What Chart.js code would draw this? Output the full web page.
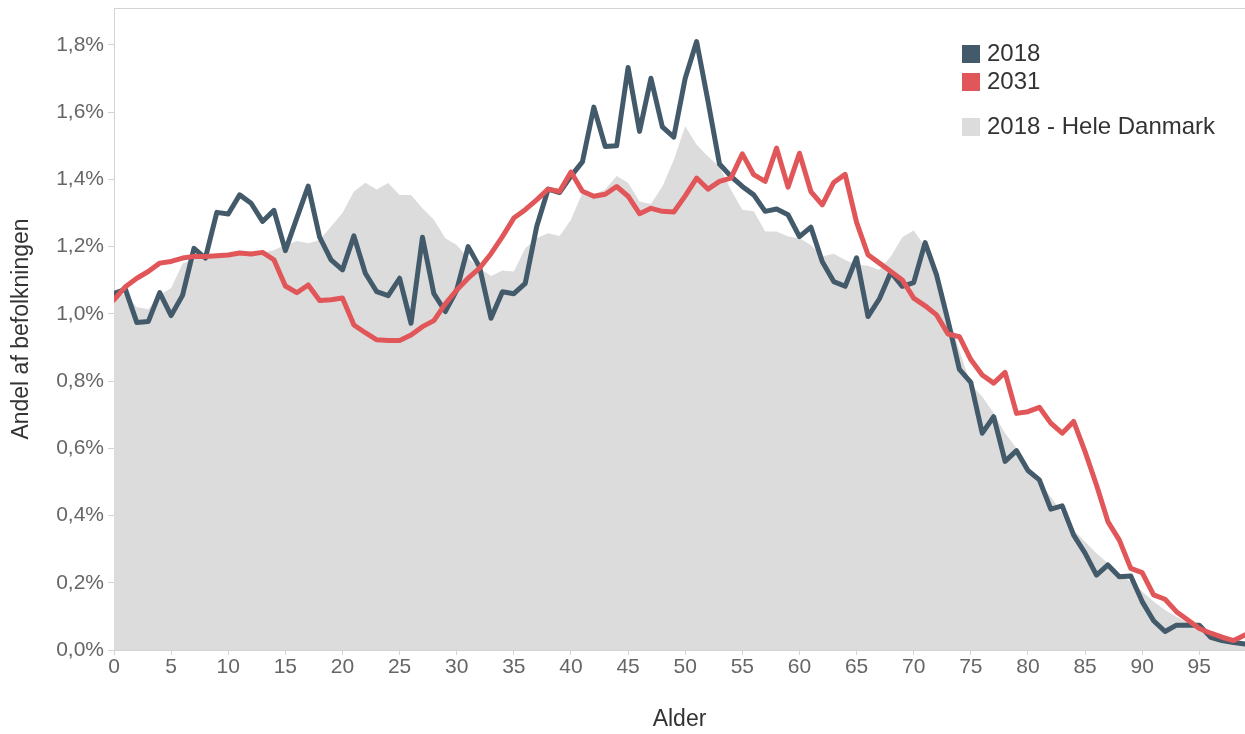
<!DOCTYPE html>
<html>
<head>
<meta charset="utf-8">
<script src="https://cdn.jsdelivr.net/npm/chart.js@4/dist/chart.umd.min.js"></script>
<style>
    body { margin: 0; background: #fff; font-family: "Liberation Sans", Arial, sans-serif; }
    .wrap { position: relative; width: 1245px; height: 734px; }
    .legend { position: absolute; left: 962px; top: 39px; color: #333; font-size: 24px; }
    .legend .item { position: absolute; left: 0; white-space: nowrap; height: 28px; line-height: 28px; }
    .legend .box { position: absolute; left: 0; top: 6px; width: 18px; height: 18px; }
    .legend .txt { position: absolute; left: 25px; top: 0; }
</style>
</head>
<body>
<div class="wrap">
    <canvas id="ageChart"></canvas>
    <div class="legend">
        <div class="item" style="top:0px"><span class="box" style="background:#435a6a"></span><span class="txt">2018</span></div>
        <div class="item" style="top:28px"><span class="box" style="background:#e15759"></span><span class="txt">2031</span></div>
        <div class="item" style="top:73px"><span class="box" style="background:#dcdcdc"></span><span class="txt">2018 - Hele Danmark</span></div>
    </div>
</div>
<script>
const ages = [
    0, 1, 2, 3, 4, 5, 6, 7, 8, 9, 10, 11, 12, 13, 14, 15, 16, 17, 18, 19,
    20, 21, 22, 23, 24, 25, 26, 27, 28, 29, 30, 31, 32, 33, 34, 35, 36, 37, 38, 39,
    40, 41, 42, 43, 44, 45, 46, 47, 48, 49, 50, 51, 52, 53, 54, 55, 56, 57, 58, 59,
    60, 61, 62, 63, 64, 65, 66, 67, 68, 69, 70, 71, 72, 73, 74, 75, 76, 77, 78, 79,
    80, 81, 82, 83, 84, 85, 86, 87, 88, 89, 90, 91, 92, 93, 94, 95, 96, 97, 98, 99
];

// andel af befolkningen i procent
const share2018 = [
    1.061, 1.073, 0.974, 0.977, 1.063, 0.995, 1.055, 1.195, 1.166, 1.302,
    1.297, 1.354, 1.329, 1.275, 1.308, 1.188, 1.285, 1.380, 1.228, 1.161,
    1.131, 1.232, 1.121, 1.066, 1.054, 1.106, 0.972, 1.228, 1.060, 1.007,
    1.071, 1.200, 1.139, 0.987, 1.066, 1.060, 1.091, 1.260, 1.371, 1.361,
    1.410, 1.452, 1.615, 1.498, 1.500, 1.733, 1.543, 1.701, 1.556, 1.526,
    1.701, 1.810, 1.632, 1.446, 1.409, 1.379, 1.354, 1.305, 1.312, 1.295,
    1.230, 1.258, 1.155, 1.096, 1.082, 1.167, 0.992, 1.045, 1.124, 1.082,
    1.093, 1.212, 1.116, 0.980, 0.835, 0.796, 0.645, 0.694, 0.561, 0.593,
    0.534, 0.506, 0.419, 0.429, 0.342, 0.288, 0.223, 0.253, 0.218, 0.220,
    0.144, 0.087, 0.055, 0.074, 0.074, 0.074, 0.038, 0.028, 0.022, 0.018
];

const share2031 = [
    1.042, 1.081, 1.106, 1.126, 1.151, 1.156, 1.166, 1.171, 1.171, 1.173,
    1.175, 1.181, 1.178, 1.183, 1.161, 1.083, 1.063, 1.086, 1.040, 1.042,
    1.047, 0.967, 0.944, 0.923, 0.921, 0.921, 0.937, 0.962, 0.980, 1.030,
    1.071, 1.106, 1.136, 1.179, 1.230, 1.285, 1.310, 1.339, 1.371, 1.364,
    1.422, 1.365, 1.350, 1.356, 1.379, 1.350, 1.298, 1.314, 1.305, 1.303,
    1.351, 1.404, 1.371, 1.394, 1.404, 1.476, 1.414, 1.394, 1.493, 1.377,
    1.478, 1.364, 1.324, 1.391, 1.415, 1.272, 1.176, 1.151, 1.126, 1.101,
    1.047, 1.024, 0.997, 0.940, 0.932, 0.864, 0.818, 0.794, 0.826, 0.704,
    0.709, 0.722, 0.675, 0.645, 0.680, 0.590, 0.491, 0.382, 0.327, 0.243,
    0.230, 0.164, 0.151, 0.114, 0.089, 0.064, 0.050, 0.038, 0.028, 0.045
];

const shareDanmark = [
    1.050, 1.060, 1.020, 1.014, 1.057, 1.076, 1.150, 1.165, 1.170, 1.170,
    1.170, 1.175, 1.175, 1.180, 1.190, 1.205, 1.217, 1.210, 1.220, 1.260,
    1.300, 1.364, 1.390, 1.370, 1.389, 1.354, 1.354, 1.314, 1.280, 1.225,
    1.205, 1.166, 1.136, 1.113, 1.129, 1.126, 1.195, 1.225, 1.240, 1.232,
    1.280, 1.360, 1.355, 1.370, 1.410, 1.390, 1.334, 1.327, 1.379, 1.458,
    1.558, 1.503, 1.468, 1.438, 1.369, 1.310, 1.305, 1.245, 1.245, 1.230,
    1.225, 1.205, 1.171, 1.179, 1.160, 1.146, 1.143, 1.131, 1.171, 1.228,
    1.248, 1.200, 1.111, 1.000, 0.890, 0.790, 0.754, 0.704, 0.645, 0.600,
    0.546, 0.500, 0.456, 0.407, 0.357, 0.322, 0.288, 0.258, 0.228, 0.203,
    0.174, 0.144, 0.119, 0.099, 0.081, 0.064, 0.050, 0.040, 0.030, 0.025
];

function toPoints(values) {
    return ages.map((a, i) => ({ x: a, y: values[i] }));
}

const tickFont = { family: '"Liberation Sans", Arial, sans-serif', size: 21 };
const titleFont = { family: '"Liberation Sans", Arial, sans-serif', size: 23 };

// top frame line of the plot
const frameLine = {
    id: 'frameLine',
    afterDraw(chart) {
        const { ctx, chartArea } = chart;
        ctx.save();
        ctx.strokeStyle = '#d4d4d4';
        ctx.lineWidth = 1;
        ctx.beginPath();
        ctx.moveTo(chartArea.left, chartArea.top + 0.5);
        ctx.lineTo(chartArea.right, chartArea.top + 0.5);
        ctx.stroke();
        ctx.restore();
    }
};

const ctx = document.getElementById('ageChart').getContext('2d');
const ageChart = new Chart(ctx, {
    type: 'line',
    data: {
        datasets: [
            {
                label: '2031',
                data: toPoints(share2031),
                borderColor: '#e15759',
                borderWidth: 5,
                pointRadius: 0,
                fill: false,
                order: 1
            },
            {
                label: '2018',
                data: toPoints(share2018),
                borderColor: '#435a6a',
                borderWidth: 5,
                pointRadius: 0,
                fill: false,
                order: 2
            },
            {
                label: '2018 - Hele Danmark',
                data: toPoints(shareDanmark),
                borderColor: '#dcdcdc',
                backgroundColor: '#dcdcdc',
                borderWidth: 0,
                pointRadius: 0,
                fill: 'origin',
                order: 3
            }
        ]
    },
    options: {
        responsive: true,
        maintainAspectRatio: false,
        animation: false,
        layout: { padding: { top: 8, right: 0, left: 0, bottom: 0 } },
        plugins: {
            legend: { display: false },
            tooltip: { enabled: false }
        },
        elements: {
            line: { tension: 0, borderJoinStyle: 'round', borderCapStyle: 'round' }
        },
        scales: {
            x: {
                type: 'linear',
                min: 0,
                max: 99,
                afterFit: (scale) => {
                    scale.height = 84;
                    scale.paddingLeft = 0;
                    scale.paddingRight = 0;
                },
                border: { display: true, color: '#d4d4d4' },
                grid: { drawOnChartArea: false, drawTicks: true, tickLength: 5, color: '#d4d4d4' },
                ticks: {
                    stepSize: 5,
                    includeBounds: false,
                    maxRotation: 0,
                    autoSkip: false,
                    padding: 0,
                    color: '#666',
                    font: tickFont
                },
                title: {
                    display: true,
                    text: 'Alder',
                    color: '#333',
                    font: titleFont,
                    padding: { top: 0, bottom: 1 }
                }
            },
            y: {
                min: 0,
                max: 1.91,
                afterFit: (scale) => {
                    scale.width = 114;
                    scale.paddingTop = 0;
                    scale.paddingBottom = 0;
                },
                border: { display: true, color: '#d4d4d4' },
                grid: { drawOnChartArea: false, drawTicks: true, tickLength: 6, color: '#d4d4d4' },
                ticks: {
                    stepSize: 0.2,
                    includeBounds: false,
                    padding: 4,
                    color: '#666',
                    font: tickFont,
                    callback: (value) => value.toFixed(1).replace('.', ',') + '%'
                },
                title: {
                    display: true,
                    text: 'Andel af befolkningen',
                    color: '#333',
                    font: titleFont,
                    padding: { top: 8, bottom: 0 }
                }
            }
        }
    },
    plugins: [frameLine]
});
</script>
</body>
</html>
